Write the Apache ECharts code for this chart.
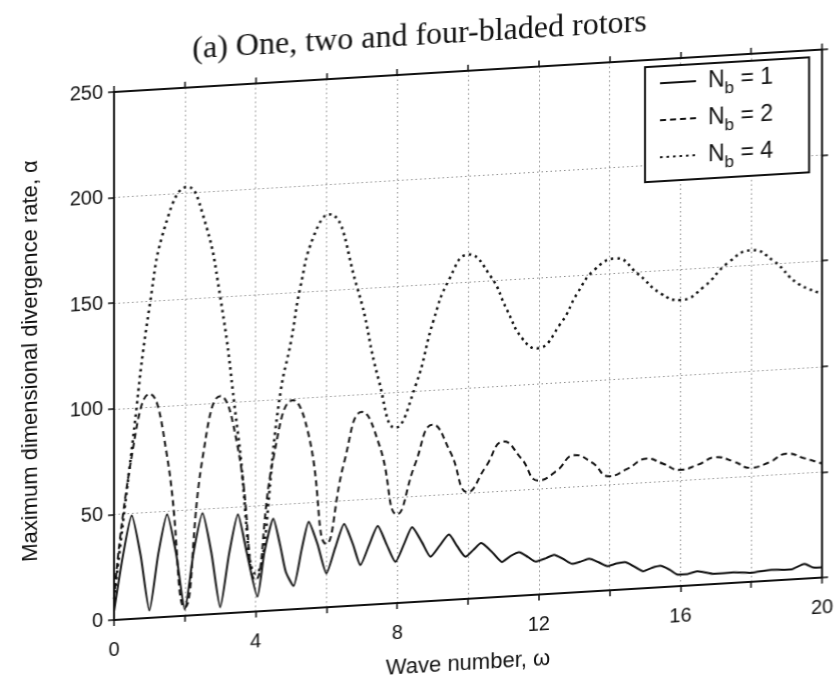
<!DOCTYPE html>
<html>
<head>
<meta charset="utf-8">
<title>One, two and four-bladed rotors</title>
<script src="https://cdn.jsdelivr.net/npm/echarts@6/dist/echarts.min.js"></script>
<style>
  html, body { margin: 0; padding: 0; background: #fff; overflow: hidden; width: 839px; height: 680px; }
  #chart {
    position: absolute; left: 0; top: 0; width: 839px; height: 720px;
    transform-origin: 114px 620px;
    transform: skewY(-3.43deg);
  }
</style>
</head>
<body>
<div id="chart"></div>
<script>
// Wave number positions and divergence rates for each blade count
const nb1 = [
  [0, 4], [0.25, 30], [0.5, 49], [0.75, 30], [1.0, 3.5], [1.25, 30], [1.5, 48.5], [1.75, 30],
  [2.0, 3], [2.25, 30], [2.5, 48], [2.75, 29], [3.0, 3], [3.25, 28], [3.5, 46.5], [3.75, 28],
  [4.05, 7], [4.25, 28], [4.5, 43.5], [4.7, 30], [4.85, 18], [5.07, 11], [5.3, 28], [5.5, 41],
  [5.75, 30], [6.0, 16], [6.25, 28], [6.5, 39], [6.75, 29], [6.96, 19], [7.2, 28], [7.45, 37],
  [7.7, 28], [7.95, 19.5], [8.2, 28], [8.42, 35.5], [8.7, 28], [8.94, 21], [9.2, 26], [9.46, 31],
  [9.7, 25], [9.93, 20], [10.15, 23], [10.37, 26], [10.7, 21], [10.96, 16.5], [11.2, 19], [11.44, 20.6],
  [11.7, 18], [11.91, 15.7], [12.2, 17], [12.43, 18.4], [12.7, 16], [12.95, 13.6], [13.2, 14.5], [13.42, 15.5],
  [13.7, 13.5], [13.94, 11.5], [14.2, 12.5], [14.43, 12.9], [14.7, 10.5], [14.95, 8.1], [15.2, 9.5], [15.43, 10.2],
  [15.7, 8], [15.93, 5.5], [16.2, 5.5], [16.48, 6.5], [16.95, 4.8], [17.5, 5], [18.0, 4.3], [18.56, 5.1],
  [19.12, 4.7], [19.5, 7], [19.75, 5], [20, 4.9]
];
const nb2 = [
  [0, 10], [0.5, 77], [1.0, 106], [1.5, 76], [2.0, 4], [2.5, 74], [3.0, 103], [3.5, 78],
  [4.0, 15], [4.5, 72], [5.05, 99], [5.5, 82], [6.0, 30], [6.5, 68], [7.0, 91.5], [7.5, 75],
  [8.0, 42], [8.5, 65], [9.0, 83.5], [9.5, 70], [10.0, 50.5], [10.5, 62], [11.0, 73.5], [11.5, 65],
  [12.0, 54], [12.5, 58], [13.0, 65], [13.5, 61], [14.0, 54], [14.5, 57], [15.05, 61.3], [15.5, 58.5],
  [16.0, 55], [16.5, 57], [17.0, 60], [17.5, 57.5], [18.0, 54], [18.5, 56], [19.0, 59.7], [19.5, 57],
  [20, 54]
];
const nb4 = [
  [0, 10], [0.5, 80], [1.0, 147], [1.5, 188], [2.07, 203], [2.5, 190], [3.0, 150], [3.5, 85],
  [4.0, 18], [4.7, 103], [5.0, 127], [5.26, 152], [5.64, 176], [6.06, 186], [6.86, 151], [7.48, 106],
  [7.95, 83], [8.51, 102], [9.03, 133], [9.46, 151.5], [10.0, 163], [10.64, 152], [11.1, 135.7], [11.53, 121.8],
  [11.95, 116.6], [12.62, 127.8], [13.09, 141.6], [13.56, 152], [14.17, 157], [14.78, 149.3], [15.45, 139], [16.01, 135.4],
  [16.66, 141], [17.33, 151.5], [18.0, 157], [18.65, 151], [19.31, 140], [20, 134.6]
];
const seriesNames = ['N_b = 1', 'N_b = 2', 'N_b = 4'];
const xTicks = [0, 20, 2];      // min, max, tick step
const yTicks = [0, 250, 50];    // min, max, tick step

const chart = echarts.init(document.getElementById('chart'), null, { renderer: 'canvas' });

const sans = 'Liberation Sans, Arial, sans-serif';
const gridLine = { show: true, lineStyle: { color: '#8a8a8a', width: 1, type: [1.5, 3] } };
const axisLine = { show: true, onZero: false, lineStyle: { color: '#111', width: 2 } };
const axisTick = { show: true, inside: false, length: 6, lineStyle: { color: '#111', width: 1.5 } };

chart.setOption({
  animation: false,
  backgroundColor: '#fff',
  title: {
    text: '(a) One, two and four-bladed rotors',
    left: 'center',
    top: 34,
    textStyle: { fontFamily: 'Liberation Serif, Times New Roman, serif', fontWeight: 'normal', fontSize: 32, color: '#111' }
  },
  grid: { left: 114, right: 17, top: 92, bottom: 100, containLabel: false },
  legend: {
    orient: 'vertical',
    left: 645,
    top: 99,
    padding: [6, 36, 6, 14],
    itemGap: 8,
    itemWidth: 36,
    itemHeight: 14,
    borderColor: '#111',
    borderWidth: 2,
    backgroundColor: '#fff',
    itemStyle: { opacity: 0 },
    data: seriesNames,
    formatter: function (name) {
      const parts = name.split('_');
      const rest = parts[1].slice(1);
      return '{p|}{n|' + parts[0] + '}{s|' + parts[1][0] + '}{n|' + rest + '}';
    },
    textStyle: {
      color: '#111',
      rich: {
        p: { width: 7, lineHeight: 24 },
        n: { fontFamily: sans, fontSize: 23, color: '#111', lineHeight: 24, verticalAlign: 'bottom' },
        s: { fontFamily: sans, fontSize: 17, color: '#111', lineHeight: 24, verticalAlign: 'bottom', padding: [0, 0, -6, 0] }
      }
    }
  },
  xAxis: [
    {
      type: 'value', min: xTicks[0], max: xTicks[1], interval: xTicks[2], position: 'bottom',
      name: 'Wave number, \u03c9', nameLocation: 'middle', nameGap: 54,
      nameTextStyle: { fontFamily: sans, fontSize: 22, color: '#111' },
      axisLine: axisLine, axisTick: axisTick, splitLine: gridLine,
      axisLabel: {
        fontFamily: sans, fontSize: 20, color: '#111', margin: 20,
        formatter: function (v) { return v % 4 === 0 ? String(v) : ''; }
      }
    },
    {
      type: 'value', min: xTicks[0], max: xTicks[1], interval: xTicks[2], position: 'top',
      axisLine: axisLine, axisTick: axisTick, splitLine: { show: false }, axisLabel: { show: false }
    }
  ],
  yAxis: [
    {
      type: 'value', min: yTicks[0], max: yTicks[1], interval: yTicks[2], position: 'left',
      name: 'Maximum dimensional divergence rate, \u03b1', nameLocation: 'middle', nameGap: 72,
      nameTextStyle: { fontFamily: sans, fontSize: 22, color: '#111' },
      axisLine: axisLine, axisTick: axisTick, splitLine: gridLine,
      axisLabel: { fontFamily: sans, fontSize: 20, color: '#111', margin: 11 }
    },
    {
      type: 'value', min: yTicks[0], max: yTicks[1], interval: yTicks[2], position: 'right',
      axisLine: axisLine, axisTick: axisTick, splitLine: { show: false }, axisLabel: { show: false }
    }
  ],
  series: [
    {
      name: seriesNames[0], type: 'line', data: nb1, showSymbol: false, symbol: 'none', smooth: 0.2,
      lineStyle: { color: '#111', width: 2, type: 'solid' }, itemStyle: { color: '#111' }, z: 5
    },
    {
      name: seriesNames[1], type: 'line', data: nb2, showSymbol: false, symbol: 'none', smooth: true,
      lineStyle: { color: '#111', width: 2, type: [6, 4] }, itemStyle: { color: '#111' }, z: 4
    },
    {
      name: seriesNames[2], type: 'line', data: nb4, showSymbol: false, symbol: 'none', smooth: true,
      lineStyle: { color: '#111', width: 2.5, type: [2.5, 4] }, itemStyle: { color: '#111' }, z: 3
    }
  ]
});
</script>
</body>
</html>
